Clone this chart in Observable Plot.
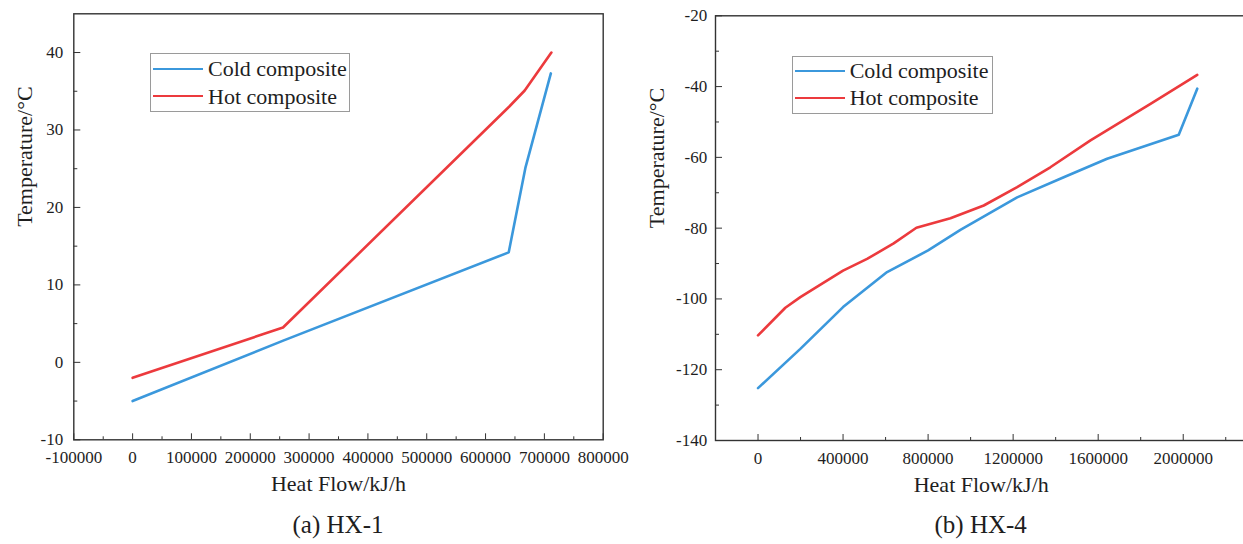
<!DOCTYPE html>
<html><head><meta charset="utf-8">
<script src="https://cdn.jsdelivr.net/npm/d3@7"></script>
<script src="https://cdn.jsdelivr.net/npm/@observablehq/plot@0.6"></script>
<style>
body{margin:0;background:#fff;overflow:hidden;width:1243px;height:544px;position:relative;font-family:"Liberation Serif","Times New Roman",serif;color:#222}
.panel{position:absolute;top:0}
.panel svg{max-width:none !important}
.legend{position:absolute;border:1.2px solid #9a9a9a;background:#fff;box-sizing:border-box}
.sw{position:absolute;height:0;border-top:2.5px solid}
.lt{position:absolute;font-size:22px;line-height:1;white-space:nowrap;color:#1e1e1e}
.cap{position:absolute;font-size:25px;line-height:1;transform:translateX(-50%);white-space:nowrap;color:#1e1e1e}
</style></head><body>
<div id="a" class="panel" style="left:0px;width:620px"></div>
<div id="b" class="panel" style="left:620px;width:640px"></div>
<script>
// ---------- data ----------
const BLUE = "#3b98dc", RED = "#ec3a3d";
const seriesNames = ["Cold composite", "Hot composite"];
const captions = ["(a) HX-1", "(b) HX-4"];
const xTitle = "Heat Flow/kJ/h";
const yTitle = "Temperature/°C";

// HX-1
const hx1ColdQ = [0, 256000, 639400, 667700, 711000];
const hx1ColdT = [-5.0, 2.8, 14.2, 25.1, 37.3];
const hx1HotQ  = [0, 255700, 640000, 666600, 711900];
const hx1HotT  = [-2.0, 4.5, 33.0, 35.1, 40.0];
const hx1XTicks = [-100000, 0, 100000, 200000, 300000, 400000, 500000, 600000, 700000, 800000];
const hx1XMinor = [-50000, 50000, 150000, 250000, 350000, 450000, 550000, 650000, 750000];
const hx1YTicks = [-10, 0, 10, 20, 30, 40];
const hx1YMinor = [-5, 5, 15, 25, 35];

// HX-4
const hx4ColdQ = [0, 199000, 400000, 607000, 800000, 952000, 1218800, 1438000, 1642000, 1979000, 2066000];
const hx4ColdT = [-125.2, -114.1, -102.3, -92.4, -86.3, -80.5, -71.3, -65.6, -60.4, -53.6, -40.6];
const hx4HotQ  = [0, 128500, 199000, 400000, 513000, 638000, 745000, 905000, 1061800, 1218800, 1375000, 1563800, 1846000, 2066000];
const hx4HotT  = [-110.3, -102.5, -99.5, -92.0, -88.7, -84.3, -79.9, -77.2, -73.6, -68.4, -62.8, -55.2, -44.9, -36.7];
const hx4XTicks = [0, 400000, 800000, 1200000, 1600000, 2000000];
const hx4XMinor = [-200000, 200000, 600000, 1000000, 1400000, 1800000, 2200000];
const hx4YTicks = [-140, -120, -100, -80, -60, -40, -20];
const hx4YMinor = [-130, -110, -90, -70, -50, -30];

const zip = (q, t) => q.map((v, i) => ({q: v, t: t[i]}));

function panel(cfg) {
  const fmt = d => String(d);
  return Plot.plot({
    width: cfg.width, height: 505,
    marginLeft: cfg.ml, marginRight: cfg.mr, marginTop: cfg.mt, marginBottom: cfg.mb,
    x: {domain: cfg.xd},
    y: {domain: cfg.yd},
    style: {fontFamily: "'Liberation Serif','Times New Roman',serif", fontSize: "17px", color: "#1e1e1e", background: "transparent", overflow: "visible", maxWidth: "none"},
    marks: [
      Plot.axisX(cfg.xMinor, {tickSize: -3, tickFormat: () => "", label: null, stroke: "#333"}),
      Plot.axisX(cfg.xTicks, {tickSize: -6, tickPadding: 17.5, tickFormat: fmt, label: null, stroke: "#333", fill: "#1e1e1e"}),
      Plot.axisY(cfg.yMinor, {tickSize: -4, tickFormat: () => "", label: null, stroke: "#333"}),
      Plot.axisY(cfg.yTicks, {tickSize: -7, tickPadding: cfg.yPad, tickFormat: fmt, label: null, stroke: "#333", fill: "#1e1e1e"}),
      Plot.frame({stroke: "#333", strokeWidth: 1.4}),
      Plot.line(zip(cfg.coldQ, cfg.coldT), {x: "q", y: "t", stroke: BLUE, strokeWidth: 2.6}),
      Plot.line(zip(cfg.hotQ, cfg.hotT), {x: "q", y: "t", stroke: RED, strokeWidth: 2.6}),
      Plot.text([xTitle], {frameAnchor: "bottom", dy: 51, fontSize: 22, fill: "#1e1e1e"}),
      Plot.text([yTitle], {frameAnchor: "left", dx: cfg.yTitleDx, rotate: -90, fontSize: 22, fill: "#1e1e1e"})
    ]
  });
}

document.getElementById("a").append(panel({
  width: 620, ml: 73.3, mr: 17.3, mt: 13.3, mb: 505 - 439.3,
  xd: [-100000, 800000], yd: [-10, 45],
  xTicks: hx1XTicks, xMinor: hx1XMinor, yTicks: hx1YTicks, yMinor: hx1YMinor, yPad: 17.6, yTitleDx: -49,
  coldQ: hx1ColdQ, coldT: hx1ColdT, hotQ: hx1HotQ, hotT: hx1HotT
}));
document.getElementById("b").append(panel({
  width: 640, ml: 95, mr: 13.5, mt: 15.3, mb: 505 - 440,
  xd: [-200000, 2300000], yd: [-140, -20],
  xTicks: hx4XTicks, xMinor: hx4XMinor, yTicks: hx4YTicks, yMinor: hx4YMinor, yPad: 15.3, yTitleDx: -59,
  coldQ: hx4ColdQ, coldT: hx4ColdT, hotQ: hx4HotQ, hotT: hx4HotT
}));

function legend(left, top, w, h, rows) {
  const box = document.createElement("div");
  box.className = "legend";
  Object.assign(box.style, {left: left + "px", top: top + "px", width: w + "px", height: h + "px"});
  rows.forEach((r, i) => {
    const sw = document.createElement("div");
    sw.className = "sw";
    Object.assign(sw.style, {left: "2px", width: "50px", top: (r.y - top - 2.2) + "px", borderTopColor: r.color});
    const tx = document.createElement("div");
    tx.className = "lt";
    tx.textContent = r.name;
    Object.assign(tx.style, {left: "57px", top: (r.y - top - 12) + "px"});
    box.append(sw, tx);
  });
  document.body.append(box);
}
legend(150, 53.3, 200, 59, [{name: seriesNames[0], color: BLUE, y: 69.3}, {name: seriesNames[1], color: RED, y: 96.7}]);
legend(791.7, 56, 201, 58.3, [{name: seriesNames[0], color: BLUE, y: 71}, {name: seriesNames[1], color: RED, y: 97.7}]);

function caption(text, cx, top) {
  const d = document.createElement("div");
  d.className = "cap";
  d.textContent = text;
  Object.assign(d.style, {left: cx + "px", top: top + "px"});
  document.body.append(d);
}
caption(captions[0], 338, 512);
caption(captions[1], 980.7, 512);
</script>
</body></html>
